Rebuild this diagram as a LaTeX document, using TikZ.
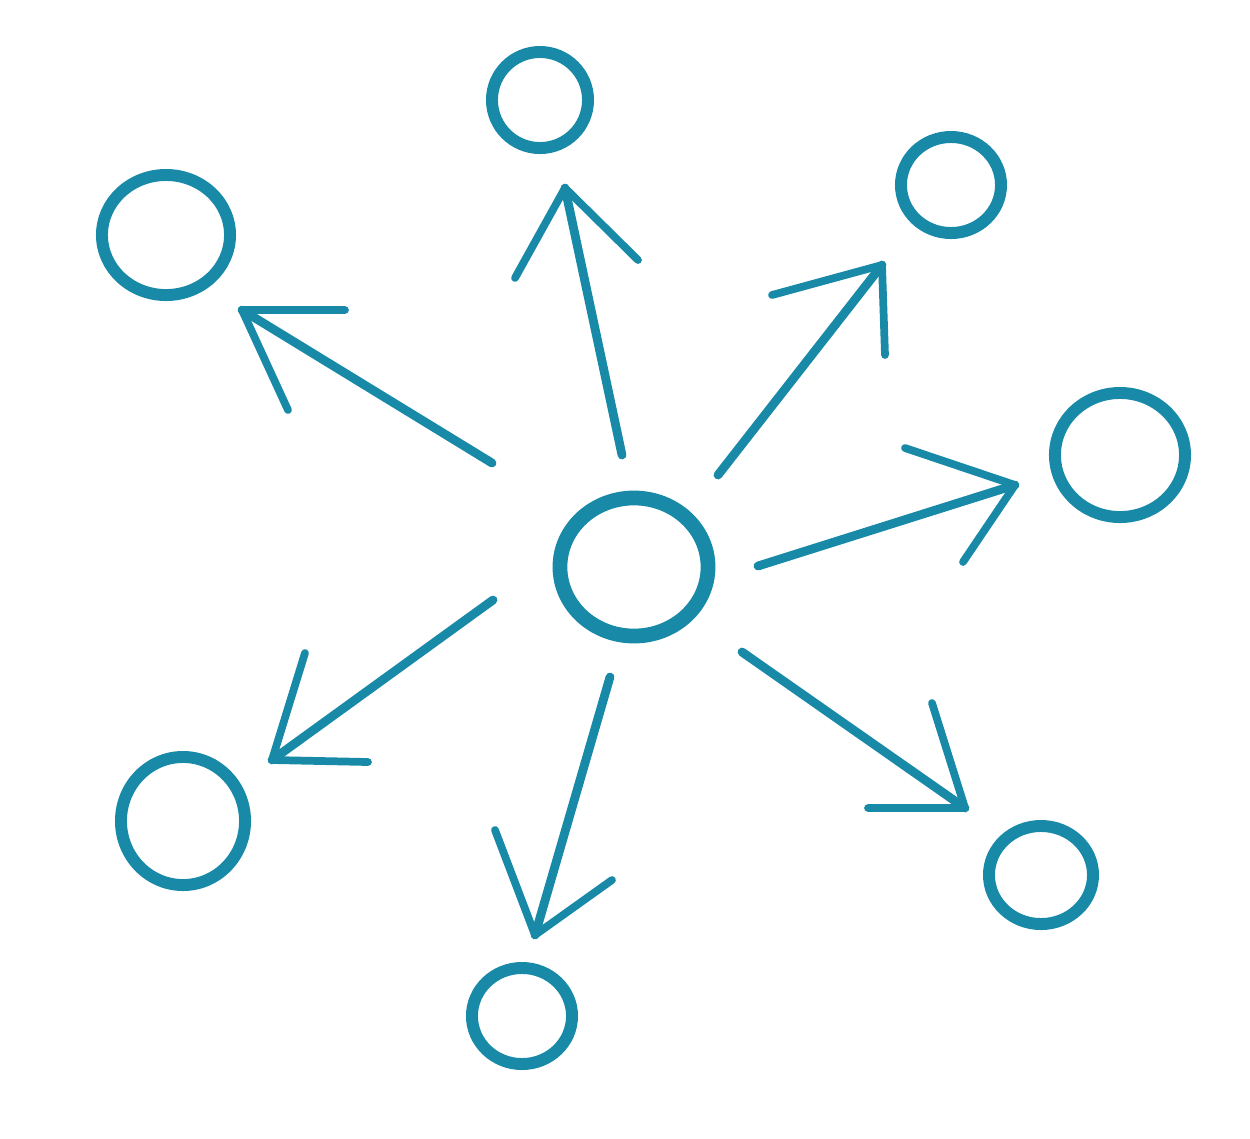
\documentclass[tikz,border=0pt]{standalone}
\usetikzlibrary{shapes.geometric}
\definecolor{teal1}{RGB}{24,138,168}
\begin{document}
\begin{tikzpicture}[x=0.01cm,y=-0.01cm,
  ring/.style={ellipse,draw=teal1,line width=3.4pt,inner sep=0pt,outer sep=0pt},
  shaft/.style={draw=teal1,line width=2.5pt,line cap=round,line join=round},
  barb/.style={draw=teal1,line width=2.2pt,line cap=round,line join=round}]
\useasboundingbox (0,0) rectangle (1250,1138);
% rings
\node[ring,line width=4.2pt,minimum width=1.48cm,minimum height=1.38cm] (hub) at (634,567) {};
\node[ring,minimum width=1.28cm,minimum height=1.20cm] (ul) at (166,235) {};
\node[ring,minimum width=0.96cm,minimum height=0.96cm] (tp) at (540,100) {};
\node[ring,minimum width=1.00cm,minimum height=0.96cm] (ur) at (951,185) {};
\node[ring,minimum width=1.30cm,minimum height=1.24cm] (rt) at (1120,455) {};
\node[ring,minimum width=1.04cm,minimum height=0.98cm] (lr) at (1041,875) {};
\node[ring,minimum width=1.00cm,minimum height=0.96cm] (bt) at (522,1016) {};
\node[ring,minimum width=1.24cm,minimum height=1.28cm] (ll) at (183,821) {};
% arrow coordinates
\coordinate (s1) at (622,455); \coordinate (t1) at (565,188);
\coordinate (a1) at (515,278); \coordinate (b1) at (638,260);
\coordinate (s2) at (492,463); \coordinate (t2) at (242,310);
\coordinate (a2) at (345,310); \coordinate (b2) at (288,410);
\coordinate (s3) at (718,475); \coordinate (t3) at (882,265);
\coordinate (a3) at (772,295); \coordinate (b3) at (885,355);
\coordinate (s4) at (758,566); \coordinate (t4) at (1015,485);
\coordinate (a4) at (905,448); \coordinate (b4) at (963,562);
\coordinate (s5) at (742,652); \coordinate (t5) at (965,808);
\coordinate (a5) at (932,703); \coordinate (b5) at (868,808);
\coordinate (s6) at (610,677); \coordinate (t6) at (535,935);
\coordinate (a6) at (495,830); \coordinate (b6) at (612,880);
\coordinate (s7) at (493,600); \coordinate (t7) at (272,760);
\coordinate (a7) at (305,653); \coordinate (b7) at (368,762);
\foreach \i in {1,...,7}{
  \draw[shaft] (s\i) -- (t\i);
  \draw[barb] (a\i) -- (t\i) -- (b\i);
}
\end{tikzpicture}
\end{document}
